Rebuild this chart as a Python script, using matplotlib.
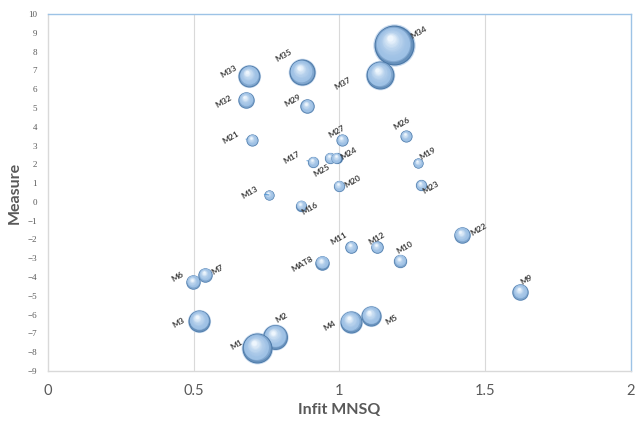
import numpy as np
import matplotlib
matplotlib.use("Agg")
import matplotlib.pyplot as plt
from matplotlib.colors import to_rgb
from matplotlib.transforms import ScaledTranslation

plt.rcParams['font.family'] = ['Lato', 'DejaVu Sans']

# data
labels = ["M34", "M37", "M35", "M33", "M32", "M29", "M21", "M27", "M26", "M17",
          "M25", "M24", "M19", "M20", "M23", "M13", "M16", "M22", "M11", "M12",
          "M10", "MAT8", "M6", "M7", "M9", "M3", "M4", "M5", "M2", "M1"]
infit = [1.187, 1.139, 0.871, 0.690, 0.679, 0.889, 0.700, 1.009, 1.228, 0.909,
         0.967, 0.990, 1.270, 0.998, 1.280, 0.758, 0.868, 1.420, 1.040, 1.128,
         1.208, 0.940, 0.497, 0.539, 1.620, 0.518, 1.039, 1.108, 0.779, 0.717]
measure = [8.35, 6.76, 6.90, 6.70, 5.43, 5.10, 3.30, 3.30, 3.50, 2.13,
           2.34, 2.34, 2.07, 0.85, 0.90, 0.37, -0.20, -1.76, -2.40, -2.40,
           -3.14, -3.24, -4.26, -3.88, -4.79, -6.33, -6.38, -6.06, -7.18, -7.77]
bubble = [16.0, 7.8, 6.8, 4.8, 2.6, 2.0, 1.4, 1.4, 1.4, 1.2,
          1.2, 1.2, 1.0, 1.2, 1.2, 1.0, 1.2, 2.6, 1.5, 1.5,
          1.7, 2.0, 2.0, 2.0, 2.6, 4.8, 4.8, 4.0, 6.2, 9.0]

# label offsets (points) from bubble centre
label_off = {"M34": (18, 9), "M37": (-27, -6), "M35": (-13, 12), "M33": (-15, 3),
             "M32": (-16, -1), "M29": (-10, 4), "M21": (-15, 2), "M27": (-4, 6),
             "M26": (-3, 9), "M17": (-15, 3), "M25": (-6, -9), "M24": (9, 3),
             "M19": (7, 7), "M20": (10, 3), "M23": (7, -2), "M13": (-14, 2),
             "M16": (6, -2), "M22": (12, 4), "M11": (-9, 6), "M12": (0, 6),
             "M10": (3, 10), "MAT8": (-14, -1), "M6": (-11, 4), "M7": (9, 4),
             "M9": (5, 9), "M3": (-15, -1), "M4": (-15, -3), "M5": (15, -3),
             "M2": (5, 14), "M1": (-15, 2)}
leader = ["M21", "M17", "M13"]

fig = plt.figure(figsize=(6.35, 4.25), dpi=100)
ax = fig.add_axes([0.0756, 0.127, 0.918, 0.84])

edge = np.array(to_rgb("#4a77a6"))
mid = np.array(to_rgb("#9ec1e5"))
hi = np.array(to_rgb("#eef6fd"))
nlay = 16

for x, y, v in zip(infit, measure, bubble):
    r = 3.6 * np.sqrt(v)  # radius in points
    # soft halo
    ax.scatter([x], [y], s=(2 * r * 1.06) ** 2, color="#c9dbef", lw=0, zorder=2)
    for k in range(nlay):
        f = 1 - k / nlay * 0.9
        t = k / (nlay - 1)
        if t < 0.2:
            c = edge + (mid - edge) * (t / 0.2)
        else:
            c = mid + (hi - mid) * ((t - 0.2) / 0.8) ** 1.8
        d = (1 - f) * r / 72
        tr = ax.transData + ScaledTranslation(-0.22 * d, 0.4 * d, fig.dpi_scale_trans)
        ax.scatter([x], [y], s=(2 * r * f) ** 2, color=c, lw=0,
                   transform=tr, zorder=3)

for lab, x, y in zip(labels, infit, measure):
    dx, dy = label_off[lab]
    props = None
    if lab in leader:
        props = dict(arrowstyle="-", color="#5b9bd5", lw=0.8,
                     shrinkA=2, shrinkB=4)
    ax.annotate(lab, (x, y), xytext=(dx, dy), textcoords="offset points",
                ha="center", va="center", rotation=30, fontsize=6,
                fontweight="bold", color="#404040", arrowprops=props, zorder=5)

ax.set_xlim(0, 2)
ax.set_ylim(-9, 10)
ax.set_xticks([0, 0.5, 1, 1.5, 2])
ax.set_xticklabels(["0", "0.5", "1", "1.5", "2"])
ax.set_yticks(range(-9, 11))
ax.tick_params(axis="x", length=0, labelsize=10.5, labelcolor="#595959", pad=9)
ax.tick_params(axis="y", length=0, labelsize=6.5, labelcolor="#595959", pad=8)
for lbl in ax.get_yticklabels():
    lbl.set_fontfamily("Liberation Serif")
for xv in [0.5, 1, 1.5]:
    ax.axvline(xv, color="#d9d9d9", lw=0.8, zorder=0)

ax.spines["left"].set_color("#d9d9d9")
ax.spines["bottom"].set_color("#d9d9d9")
ax.spines["top"].set_color("#9dc3e6")
ax.spines["right"].set_color("#9dc3e6")
for s in ax.spines.values():
    s.set_linewidth(1.0)

ax.set_xlabel("Infit MNSQ", fontsize=11.5, fontweight="bold", color="#595959", labelpad=4)
ax.set_ylabel("Measure", fontsize=11.5, fontweight="bold", color="#595959", labelpad=4)

fig.savefig("out.png", dpi=100)
